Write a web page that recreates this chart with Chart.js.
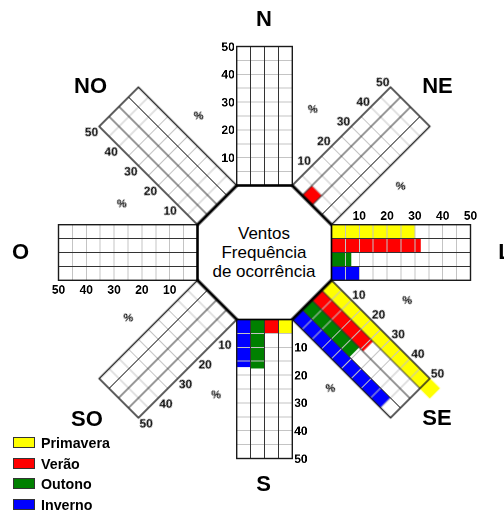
<!DOCTYPE html>
<html>
<head>
<meta charset="utf-8">
<title>Ventos - Frequência de ocorrência</title>
<script src="https://cdn.jsdelivr.net/npm/chart.js@4/dist/chart.umd.min.js"></script>
<style>
  html, body { margin: 0; padding: 0; background: #fff; overflow: hidden; }
  #stage { position: relative; width: 504px; height: 513px; overflow: hidden;
           font-family: "Liberation Sans", Arial, sans-serif; color: #000; }
  #stage canvas { position: absolute; left: 0; top: 0; transform-origin: 0 0; }
  .dir { position: absolute; font-weight: bold; font-size: 22px; line-height: 22px;
         white-space: nowrap; transform: translate(-50%, -50%); }
  #centre { position: absolute; left: 164px; top: 224px; width: 200px; text-align: center;
            font-size: 17px; line-height: 19px; }
  .swatch { position: absolute; left: 13px; width: 20px; height: 9px; border: 1px solid #333; }
  .legtext { position: absolute; left: 41px; font-weight: bold; font-size: 15px; line-height: 15px;
             white-space: nowrap; transform: scaleX(0.95); transform-origin: 0 50%; }
</style>
</head>
<body>
<div id="stage">
  <div id="centre">Ventos<br>Frequência<br>de ocorrência</div>
</div>
<script>
// Wind frequency of occurrence (%) by direction, one array per season
const directions = ['N', 'NE', 'L', 'SE', 'S', 'SO', 'O', 'NO'];
const seasons = ['Primavera', 'Verão', 'Outono', 'Inverno'];
const primavera = [0, 0, 30, 55, 5, 0, 0, 0];
const verao     = [0, 5, 32, 26, 5, 0, 0, 0];
const outono    = [0, 0, 7, 24, 17.5, 0, 0, 0];
const inverno   = [0, 0, 10, 45, 17, 0, 0, 0];
const scaleTicks = [10, 20, 30, 40, 50];

const seasonColors = ['#ffff00', '#ff0000', '#008000', '#0000ff'];

// Layout of the rose: octagon centre, distance to each arm base, arm size
const CX = 264.5, CY = 252.5;
const INNER = 67;
const ARM_LEN = 139, ARM_W = 55.5;
const PAD = 50;

const stage = document.getElementById('stage');

// Frame, octagon edge, upright tick labels and % marks for each arm
const armDecor = {
  id: 'armDecor',
  afterDraw(chart, args, opts) {
    const { ctx, chartArea: a } = chart;
    const x = chart.scales.x;
    const rad = opts.angle * Math.PI / 180;
    ctx.save();

    ctx.strokeStyle = '#1a1a1a';
    ctx.lineWidth = 1.4;
    ctx.strokeRect(a.left, a.top, a.right - a.left, a.bottom - a.top);

    ctx.strokeStyle = '#000';
    ctx.lineWidth = opts.baseWidth;
    ctx.beginPath();
    ctx.moveTo(a.left, a.top - opts.baseWidth / 4);
    ctx.lineTo(a.left, a.bottom + opts.baseWidth / 4);
    ctx.stroke();

    // labels sit on the side of the first season, kept upright on screen
    const nx = Math.sin(rad), ny = -Math.cos(rad);
    const size = 12, capH = size * 0.716;
    const gap = Math.abs(ny) > 0.9 ? 5 : (Math.abs(nx) > 0.9 ? 2 : 1.5);
    ctx.font = 'bold ' + size + 'px "Liberation Sans", Arial, sans-serif';
    ctx.fillStyle = '#000';
    ctx.textAlign = 'center';
    ctx.textBaseline = 'alphabetic';
    scaleTicks.forEach(v => {
      const label = String(v);
      const w = ctx.measureText(label).width;
      const ox = nx * gap + (Math.abs(nx) > 0.3 ? Math.sign(nx) * w / 2 : 0);
      const oy = ny * gap + (Math.abs(ny) > 0.3 ? Math.sign(ny) * capH / 2 : 0);
      ctx.save();
      ctx.translate(x.getPixelForValue(v), a.top);
      ctx.rotate(-rad);
      ctx.fillText(label, ox, oy + capH / 2);
      ctx.restore();
    });

    if (opts.diagonal) {
      ctx.font = 'bold 11px "Liberation Sans", Arial, sans-serif';
      ctx.textBaseline = 'middle';
      [[24.5, a.top - 39], [27.3, a.bottom + 22]].forEach(([v, y]) => {
        ctx.save();
        ctx.translate(x.getPixelForValue(v), y);
        ctx.rotate(-rad);
        ctx.fillText('%', 0, 0);
        ctx.restore();
      });
    }
    ctx.restore();
  }
};

const baseWidths = { N: 2.6, O: 2.6, L: 1.5, S: 1.5 };

directions.forEach((dir, i) => {
  const angle = (270 + i * 45) % 360;   // screen angle, clockwise from east
  const diagonal = i % 2 === 1;
  const w = ARM_LEN + 2 * PAD;
  const h = Math.ceil(ARM_W + 2 * PAD);
  const canvas = document.createElement('canvas');
  canvas.width = w; canvas.height = h;
  canvas.style.width = w + 'px'; canvas.style.height = h + 'px';
  stage.appendChild(canvas);

  const values = [primavera[i], verao[i], outono[i], inverno[i]];

  const chart = new Chart(canvas, {
    type: 'bar',
    data: {
      labels: seasons,
      datasets: [{
        data: values,
        backgroundColor: seasonColors,
        borderWidth: 0,
        barPercentage: 1,
        categoryPercentage: 1,
        clip: false
      }]
    },
    options: {
      indexAxis: 'y',
      responsive: false,
      animation: false,
      devicePixelRatio: 2,
      events: [],
      layout: { padding: { left: PAD, right: PAD, top: PAD, bottom: h - PAD - ARM_W } },
      plugins: {
        legend: { display: false },
        tooltip: { enabled: false },
        armDecor: { angle, diagonal, baseWidth: diagonal ? 3 : (baseWidths[dir] || 1.5) }
      },
      scales: {
        x: {
          type: 'linear', min: 0, max: 50,
          ticks: { display: false, stepSize: 5 },
          grid: { color: '#c4c4c4', lineWidth: 1, drawTicks: false, z: 1 },
          border: { display: false }
        },
        y: {
          type: 'category', offset: true,
          ticks: { display: false },
          grid: { offset: true, color: '#333', lineWidth: 1, drawTicks: false, z: 1 },
          border: { display: false }
        }
      }
    },
    plugins: [armDecor]
  });

  // place the arm so its base lies on the octagon, pointing outward
  const a = chart.chartArea;
  const ax = a.left, ay = (a.top + a.bottom) / 2;
  const rad = angle * Math.PI / 180;
  const bx = CX + INNER * Math.cos(rad), by = CY + INNER * Math.sin(rad);
  canvas.style.transform =
    'translate(' + bx + 'px,' + by + 'px) rotate(' + angle + 'deg) translate(' + (-ax) + 'px,' + (-ay) + 'px)';
});

// compass labels
const dirLabelPos = {
  N: [264, 19], NE: [437.5, 86], L: [505, 252], SE: [437, 418],
  S: [263.5, 484], SO: [87, 419], O: [20.5, 252], NO: [90.5, 86]
};
directions.forEach(dir => {
  const el = document.createElement('div');
  el.className = 'dir';
  el.textContent = dir;
  el.style.left = dirLabelPos[dir][0] + 'px';
  el.style.top = dirLabelPos[dir][1] + 'px';
  stage.appendChild(el);
});

// season legend
seasons.forEach((name, k) => {
  const top = 437 + k * 20.6;
  const sw = document.createElement('div');
  sw.className = 'swatch';
  sw.style.top = top + 'px';
  sw.style.background = seasonColors[k];
  stage.appendChild(sw);
  const t = document.createElement('div');
  t.className = 'legtext';
  t.textContent = name;
  t.style.top = (top + 5.5 - 7.5) + 'px';
  stage.appendChild(t);
});
</script>
</body>
</html>
